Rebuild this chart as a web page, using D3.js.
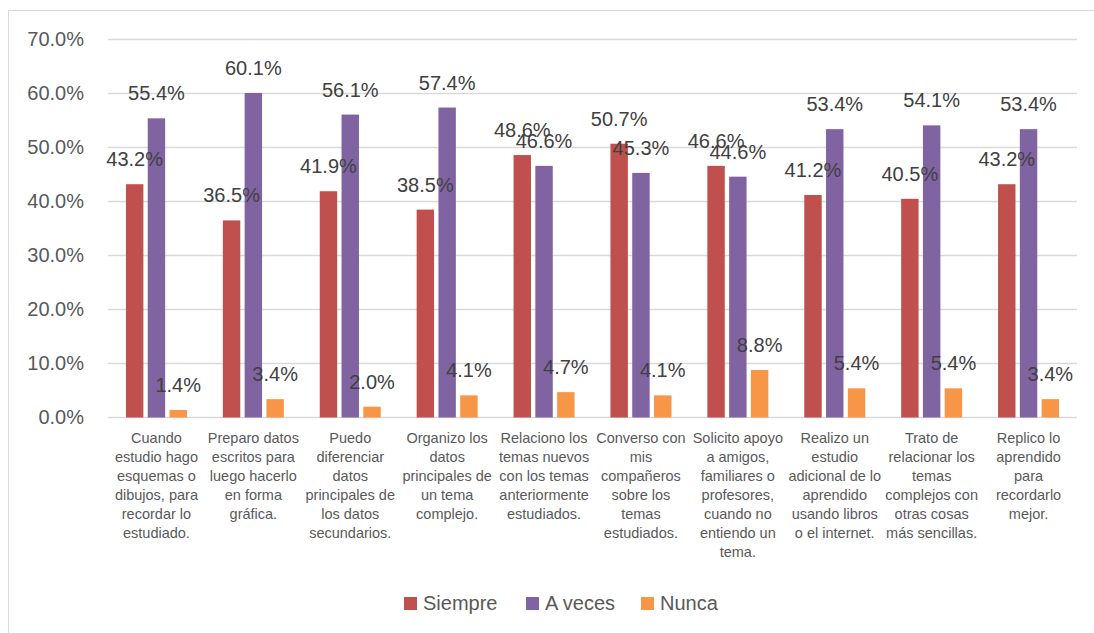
<!DOCTYPE html>
<html><head><meta charset="utf-8">
<script src="https://cdn.jsdelivr.net/npm/d3@7"></script>
<style>
body{margin:0;background:#fff;}
svg{display:block;font-family:"Liberation Sans",Arial,sans-serif;}
</style></head>
<body><svg id="c" width="1094" height="633"></svg>
<script>
const categories = [
  ["Cuando","estudio hago","esquemas o","dibujos, para","recordar lo","estudiado."],
  ["Preparo datos","escritos para","luego hacerlo","en forma","gráfica."],
  ["Puedo","diferenciar","datos","principales de","los datos","secundarios."],
  ["Organizo los","datos","principales de","un tema","complejo."],
  ["Relaciono los","temas nuevos","con los temas","anteriormente","estudiados."],
  ["Converso con","mis","compañeros","sobre los","temas","estudiados."],
  ["Solicito apoyo","a amigos,","familiares o","profesores,","cuando no","entiendo un","tema."],
  ["Realizo un","estudio","adicional de lo","aprendido","usando libros","o el internet."],
  ["Trato de","relacionar los","temas","complejos con","otras cosas","más sencillas."],
  ["Replico lo","aprendido","para","recordarlo","mejor."]
];
const seriesNames = ["Siempre","A veces","Nunca"];
const siempre = [43.2,36.5,41.9,38.5,48.6,50.7,46.6,41.2,40.5,43.2];
const aveces  = [55.4,60.1,56.1,57.4,46.6,45.3,44.6,53.4,54.1,53.4];
const nunca   = [1.4,3.4,2.0,4.1,4.7,4.1,8.8,5.4,5.4,3.4];
const yTicks  = [0,10,20,30,40,50,60,70];
const colors  = ["#C0504D","#8064A2","#F79646"];

(function(){
const series = [siempre, aveces, nunca];
const svg = d3.select("#c");

svg.append("rect").attr("x",8.5).attr("y",10.5).attr("width",1100).attr("height",640)
  .attr("fill","none").attr("stroke","#D9D9D9").attr("stroke-width",1);

const pL=108, pR=1077, pT=39.5, pB=417.5;
const x = d3.scaleBand().domain(d3.range(categories.length)).range([pL,pR]);
const y = d3.scaleLinear().domain([0,70]).range([pB,pT]);
const bw = x.bandwidth();
const xs = d3.scaleBand().domain(d3.range(3)).range([bw/2-30.5,bw/2+30.5]).paddingInner(0.2);

svg.append("g").selectAll("line").data(yTicks).join("line")
  .attr("x1",pL).attr("x2",pR).attr("y1",d=>y(d)).attr("y2",d=>y(d))
  .attr("stroke","#D9D9D9").attr("stroke-width",1.5);

const yAxis = d3.axisLeft(y).tickValues(yTicks).tickFormat(d=>d.toFixed(1)+"%").tickSize(0).tickPadding(0);
const ga = svg.append("g").attr("transform","translate(84,0)").call(yAxis);
ga.select(".domain").remove();
ga.selectAll("text").attr("font-size",20).attr("fill","#595959").attr("font-family","Liberation Sans, Arial, sans-serif");

const barsG = svg.append("g");
const labG = svg.append("g");
series.forEach((vals,si)=>{
  barsG.append("g").selectAll("rect").data(vals).join("rect")
    .attr("x",(d,i)=>x(i)+xs(si)).attr("width",xs.bandwidth())
    .attr("y",d=>y(d)).attr("height",d=>y(0)-y(d))
    .attr("fill",colors[si]);
  labG.append("g").selectAll("text").data(vals).join("text")
    .attr("x",(d,i)=>x(i)+xs(si)+xs.bandwidth()/2)
    .attr("y",d=>y(d)-18)
    .attr("text-anchor","middle").attr("font-size",20).attr("fill","#404040")
    .text(d=>d.toFixed(1)+"%");
});

const cg = svg.append("g");
categories.forEach((lines,i)=>{
  const t = cg.append("text").attr("text-anchor","middle").attr("font-size",14.5).attr("fill","#595959");
  lines.forEach((ln,j)=>{
    t.append("tspan").attr("x",x(i)+bw/2).attr("y",443+j*19).text(ln);
  });
});

const legX = [404,526,641];
const lg = svg.append("g");
seriesNames.forEach((n,i)=>{
  lg.append("rect").attr("x",legX[i]).attr("y",597).attr("width",13).attr("height",13).attr("fill",colors[i]);
  lg.append("text").attr("x",legX[i]+19).attr("y",610).attr("font-size",20).attr("fill","#595959").text(n);
});
})();
</script></body></html>
